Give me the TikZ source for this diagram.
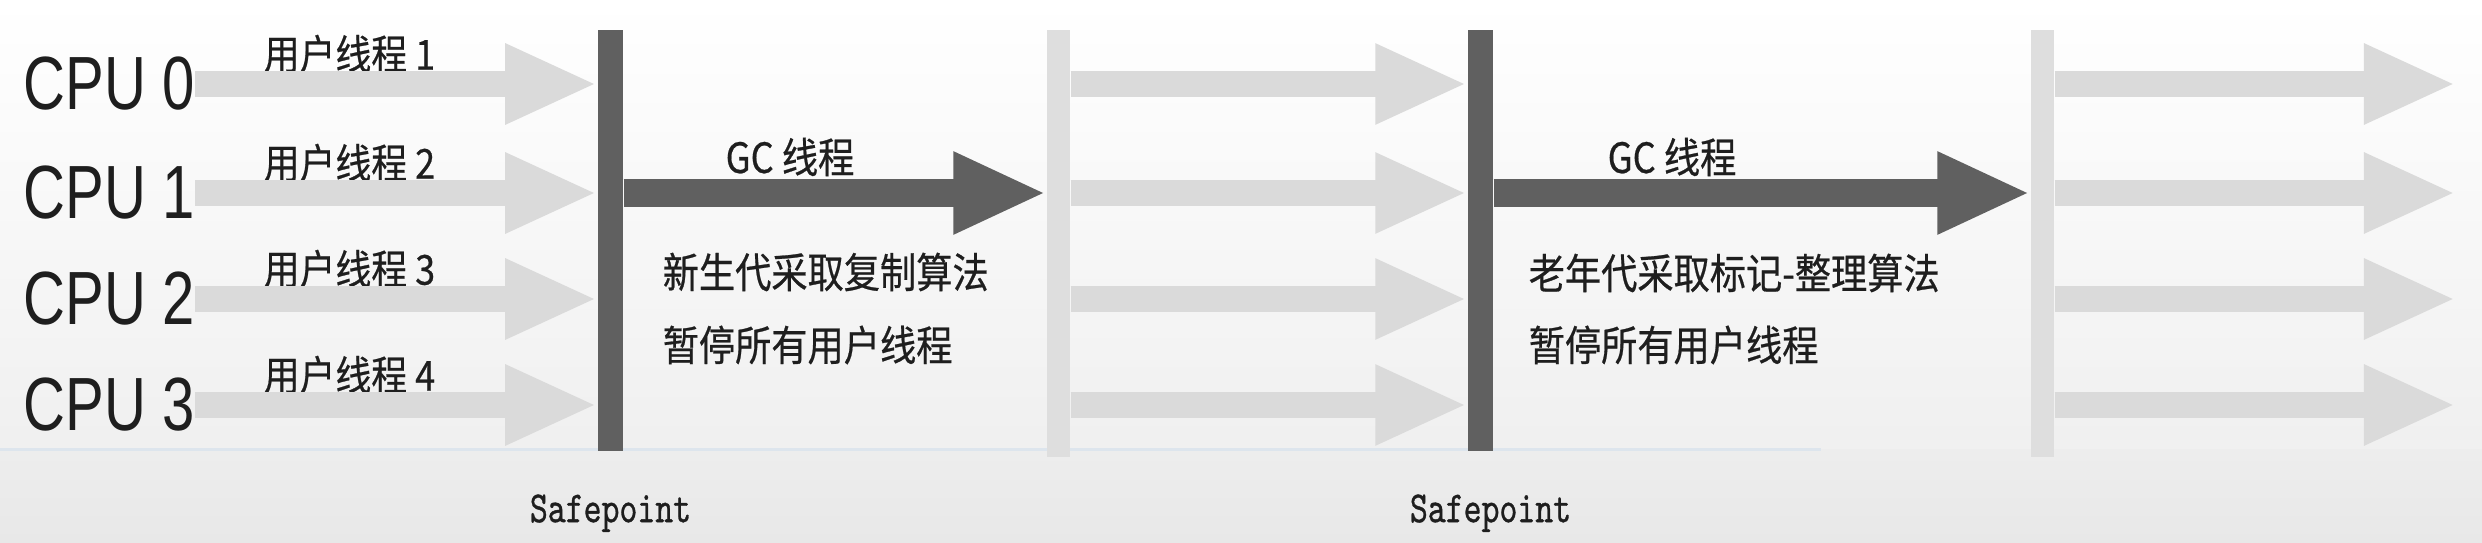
\documentclass[tikz,border=0pt]{standalone}
\usepackage{fontspec}
\setmainfont{Liberation Sans}
\newfontfamily\cjk[FakeBold=0.6]{Noto Sans CJK SC}
\newfontfamily\safefont[FakeBold=0.9]{Latin Modern Mono}
\usetikzlibrary{arrows.meta,positioning}
\tikzstyle{uline} = [draw=sLight, line width=.26cm, -{Triangle[length=.92cm,width=.74cm]}]
\tikzstyle{gcline} = [draw=sDark, line width=.27cm, -{Triangle[length=.93cm,width=.76cm]}]
\definecolor{sDark}{RGB}{96,96,96}
\definecolor{sLight}{RGB}{218,218,218}
\definecolor{sBar}{RGB}{222,222,222}
\definecolor{sRule}{RGB}{221,229,237}
\definecolor{sText}{RGB}{30,30,30}
\newcommand\tallbox[2]{\scalebox{1}[#1]{#2}}

\begin{document}
\begin{tikzpicture}[
    x=0.01cm, y=0.01cm,
    bar/.style={
      fill=sDark,
      minimum width=.25cm,
      minimum height=4.21cm,
      inner sep=0pt,
    },
    lbar/.style={
      fill=sBar,
      minimum width=.23cm,
      minimum height=4.27cm,
      inner sep=0pt,
    },
    cpu/.style={
      anchor=west,
      inner sep=0pt,
      text=sText,
      font=\fontsize{16.5}{18}\selectfont,
    },
    tlabel/.style={
      anchor=west,
      inner sep=0pt,
      text=sText,
      font=\cjk\fontsize{10.2}{12}\selectfont,
    },
    note/.style={
      anchor=west,
      inner sep=0pt,
      text=sText,
      font=\cjk\fontsize{10.3}{12}\selectfont,
    },
    sp/.style={
      inner sep=0pt,
      text=sText,
      font=\safefont\fontsize{9.7}{11}\selectfont,
    },
  ]
  \useasboundingbox (0,0) rectangle (2482,542);

  % background
  \shade[top color=white, bottom color=black!6] (0,93) rectangle (2482,542);
  \shade[top color=black!7, bottom color=black!9] (0,0) rectangle (2482,93);
  \draw[sRule, line width=.03cm] (0,93) -- (1821,93);

  % safepoints and resumed threads
  \node[bar] (sp1) at (610.5,301.5) {};
  \node[lbar] (lb1) at (1058.5,298.5) {};
  \node[bar] (sp2) at (1480.5,301.5) {};
  \node[lbar] (lb2) at (2042.5,298.5) {};

  \foreach \i/\y in {0/458,1/349,2/243,3/137}{
    \pgfmathtruncatemacro\nr{\i+1}
    \node[cpu] (cpu\i) at (23,\y) {\tallbox{1.3}{CPU \i}};
    \node[tlabel] (ut\nr) at (263,\y+30) {\tallbox{1.15}{用户线程 \nr}};
    \coordinate (out\i) at (2456,\y);
  }

  % user threads
  \foreach \i in {0,...,3}{
    \draw[uline] (cpu\i.east) -- (cpu\i.east -| sp1.west);
    \draw[uline] (cpu\i.east -| lb1.east) -- (cpu\i.east -| sp2.west);
    \draw[uline] (cpu\i.east -| lb2.east) -- (out\i);
  }

  % gc threads
  \draw[gcline] (cpu1.east -| sp1.east) -- (cpu1.east -| lb1.west);
  \draw[gcline] (cpu1.east -| sp2.east) -- (cpu1.east -| lb2.west);

  \node[note] (gc1) at (725,385) {\tallbox{1.15}{GC 线程}};
  \node[note] (young) at (662,270) {\tallbox{1.15}{新生代采取复制算法}};
  \node[note] (pause1) at (662,197) {\tallbox{1.15}{暂停所有用户线程}};
  \node[note] (gc2) at (1607,385) {\tallbox{1.15}{GC 线程}};
  \node[note] (old) at (1528,269) {\tallbox{1.15}{老年代采取标记-整理算法}};
  \node[note] (pause2) at (1528,197) {\tallbox{1.15}{暂停所有用户线程}};

  \node[sp,below=.42cm of sp1] (safe1) {\tallbox{1.3}{Safepoint}};
  \node[sp,below=.42cm of sp2,xshift=.1cm] (safe2) {\tallbox{1.3}{Safepoint}};

\end{tikzpicture}
\end{document}
